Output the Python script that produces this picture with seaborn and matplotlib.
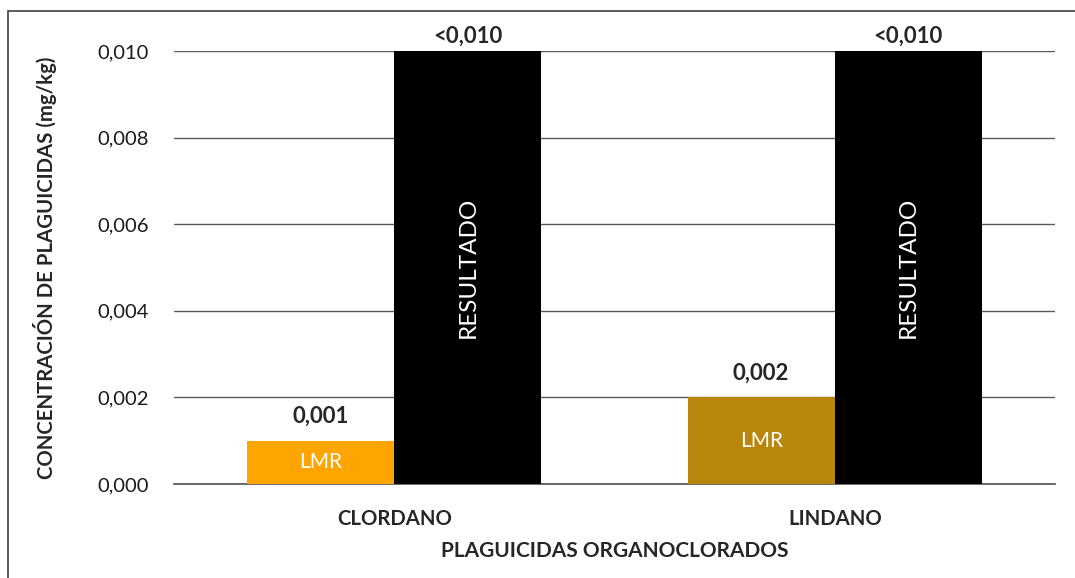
import matplotlib
matplotlib.use("Agg")
import matplotlib.pyplot as plt
from matplotlib.patches import Rectangle
import seaborn as sns
import pandas as pd

# Data
plaguicidas = ["CLORDANO", "LINDANO"]
series = ["LMR", "RESULTADO"]
lmr_values = [0.001, 0.002]
resultado_values = [0.010, 0.010]
lmr_labels = ["0,001", "0,002"]
resultado_labels = ["<0,010", "<0,010"]
y_ticks = [0.000, 0.002, 0.004, 0.006, 0.008, 0.010]
y_tick_labels = ["0,000", "0,002", "0,004", "0,006", "0,008", "0,010"]
lmr_colors = ["#FFA500", "#B8860B"]

df = pd.DataFrame({
    "Plaguicida": plaguicidas * 2,
    "Serie": [series[0]] * 2 + [series[1]] * 2,
    "Valor": lmr_values + resultado_values,
})

sns.set_theme(style="white")
plt.rcParams["font.family"] = ["Lato", "DejaVu Sans"]

fig = plt.figure(figsize=(10.75, 5.78), dpi=100)
ax = fig.add_axes([174 / 1075, 1 - 484 / 578, 881 / 1075, 433 / 578])

sns.barplot(data=df, x="Plaguicida", y="Valor", hue="Serie", hue_order=series,
            palette=[lmr_colors[0], "#000000"], width=0.668, saturation=1,
            legend=False, ax=ax, zorder=3)

# LMR bars take a different colour per pesticide
lmr_bars = ax.containers[0]
res_bars = ax.containers[1]
for bar, c in zip(lmr_bars, lmr_colors):
    bar.set_facecolor(c)
for bar in list(lmr_bars) + list(res_bars):
    bar.set_edgecolor("none")

ax.set_ylim(0, 0.010)
ax.set_xlim(-0.5, 1.5)
ax.set_yticks(y_ticks)
ax.set_yticklabels(y_tick_labels, fontsize=14.5, color="#1a1a1a")
ax.tick_params(axis="y", length=0, pad=18)
ax.tick_params(axis="x", length=0, pad=18, labelsize=14.7)
for lbl in ax.get_xticklabels():
    lbl.set_fontweight("bold")
ax.grid(axis="y", color="#595959", linewidth=1.0, zorder=0)
for s in ["top", "right", "left"]:
    ax.spines[s].set_visible(False)
ax.spines["bottom"].set_color("#595959")

ax.set_xlabel("PLAGUICIDAS ORGANOCLORADOS", fontsize=15, fontweight="bold")
ax.set_ylabel("CONCENTRACIÓN DE PLAGUICIDAS (mg/kg)", fontsize=14.7, fontweight="bold")
ax.xaxis.set_label_coords(0.5, (484 - 551) / 433)
ax.yaxis.set_label_coords((45 - 174) / 881, 0.5)
ax.xaxis.label.set_va("center")
ax.yaxis.label.set_va("center")

# value labels and inner labels
for bar, txt in zip(lmr_bars, lmr_labels):
    cx = bar.get_x() + bar.get_width() / 2
    h = bar.get_height()
    ax.annotate(txt, (cx, h), xytext=(0, 17.5), textcoords="offset points",
                ha="center", va="center", fontsize=16, fontweight="bold")
    ax.text(cx, h / 2, "LMR", ha="center", va="center", color="white", fontsize=15)
for bar, txt in zip(res_bars, resultado_labels):
    cx = bar.get_x() + bar.get_width() / 2
    h = bar.get_height()
    ax.annotate(txt, (cx, h), xytext=(0, 11), textcoords="offset points",
                ha="center", va="center", fontsize=16, fontweight="bold")
    ax.text(cx, h / 2, "RESULTADO", ha="center", va="center", color="white",
            fontsize=17.5, rotation=90)

# chart area border
fig.patches.append(Rectangle((8 / 1075, -0.1), 1.2, 1 - 11 / 578 + 0.1,
                             transform=fig.transFigure, fill=False,
                             edgecolor="#404040", linewidth=1.2))

fig.savefig("out.png", dpi=100)
plt.close(fig)
